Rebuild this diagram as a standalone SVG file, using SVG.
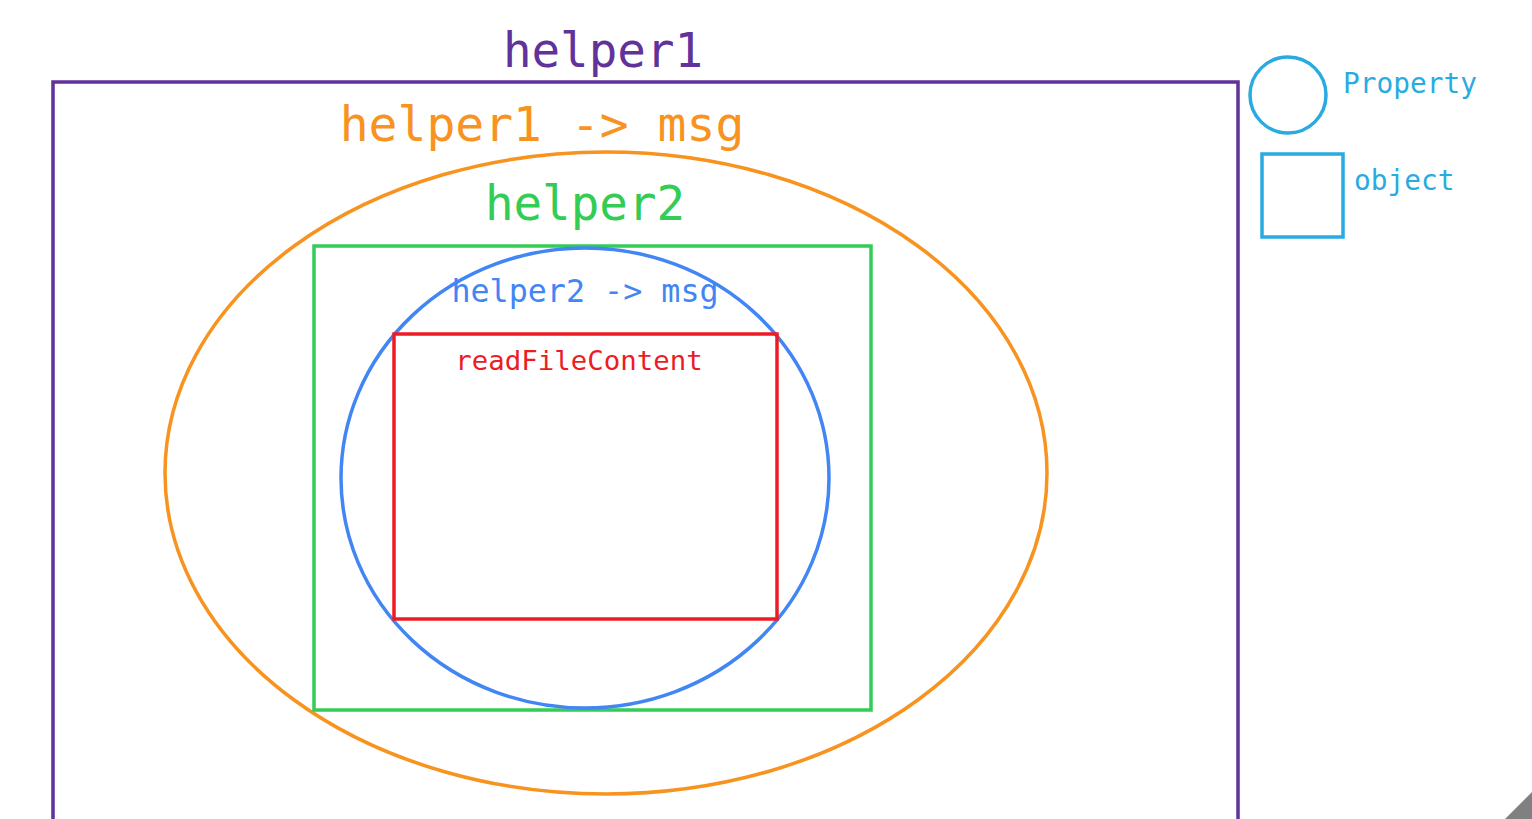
<svg xmlns="http://www.w3.org/2000/svg" width="1532" height="819" viewBox="0 0 1532 819">
<style>
.s{fill:none;stroke-width:3.5}
.t{font-family:"DejaVu Sans Mono","Liberation Mono",monospace;text-anchor:middle}
.l{font-family:"DejaVu Sans Mono","Liberation Mono",monospace;font-size:27.8px;fill:#29abe2}
</style>
<rect width="1532" height="819" fill="#ffffff"/>
<g id="helper1">
<rect class="s" x="53" y="82" width="1185" height="760" stroke="#60329a"/>
<text class="t" x="603" y="67" font-size="47.5" fill="#60329a">helper1</text>
</g>
<g id="helper1-msg">
<ellipse class="s" cx="606" cy="473" rx="441" ry="321" stroke="#f7931e"/>
<text class="t" x="542" y="141" font-size="48" fill="#f7931e">helper1 -&gt; msg</text>
</g>
<g id="helper2">
<rect class="s" x="314" y="246" width="557" height="464" stroke="#33cc55"/>
<text class="t" x="585" y="220" font-size="47.5" fill="#33cc55">helper2</text>
</g>
<g id="helper2-msg">
<ellipse class="s" cx="585" cy="478" rx="244" ry="230" stroke="#4285f4"/>
<text class="t" x="585" y="302" font-size="31.7" fill="#4285f4">helper2 -&gt; msg</text>
</g>
<g id="readFileContent">
<rect class="s" x="394" y="334" width="383" height="285" stroke="#ed1c24"/>
<text class="t" x="579" y="370" font-size="27.4" fill="#ed1c24">readFileContent</text>
</g>
<g id="legend-property">
<circle class="s" cx="1288" cy="95" r="38" stroke="#29abe2"/>
<text class="l" x="1343" y="93">Property</text>
</g>
<g id="legend-object">
<rect class="s" x="1262" y="154" width="81" height="83" stroke="#29abe2"/>
<text class="l" x="1354" y="190">object</text>
</g>
<g id="connectors"></g>
<polygon points="1505,819 1532,792 1532,819" fill="#808080"/>
</svg>
